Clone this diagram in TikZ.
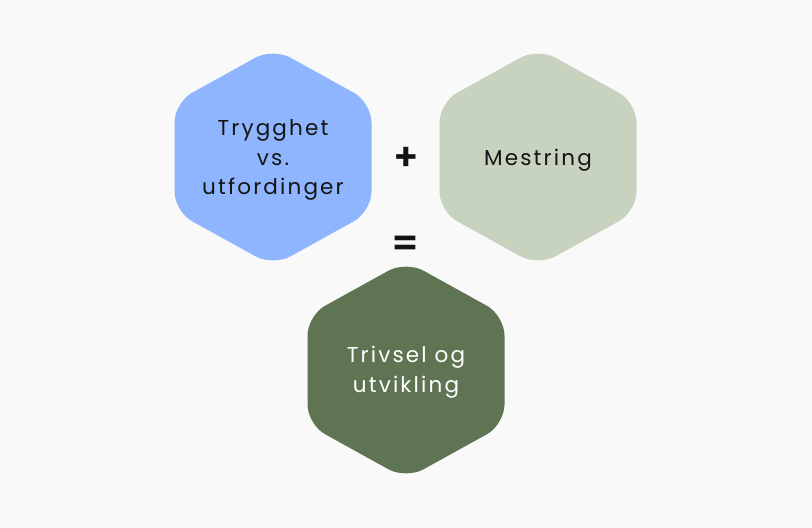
\documentclass[tikz,border=0pt]{standalone}
\usepackage{fontspec}
\setmainfont{Poppins}[LetterSpace=10]
\newfontfamily\signfont{Poppins SemiBold}
\definecolor{bgpaper}{RGB}{249,249,249}
\definecolor{hexblue}{RGB}{143,181,255}
\definecolor{hexsage}{RGB}{199,211,191}
\definecolor{hexmoss}{RGB}{94,116,82}
\definecolor{inkdark}{RGB}{20,20,20}

\begin{document}
\begin{tikzpicture}[x=0.025cm,y=-0.025cm,
  hexlabel/.style={align=center,font=\fontsize{15.3}{21}\selectfont},
  signlabel/.style={font=\signfont\fontsize{27}{27}\selectfont,text=inkdark},
  pics/hexcell/.style={code={
    \fill[#1,rounded corners=0.5cm]
      (-98.5,0) -- (-98.5,-54.5) -- (0,-109) -- (98.5,-54.5)
      -- (98.5,54.5) -- (0,109) -- (-98.5,54.5) -- cycle;
  }}]
  \fill[bgpaper] (0,0) rectangle (812,528);
  \useasboundingbox (0,0) rectangle (812,528);
  % three cells
  \pic at (273,157) {hexcell=hexblue};
  \pic at (538,157) {hexcell=hexsage};
  \pic at (406,370) {hexcell=hexmoss};
  \node[hexlabel,text=inkdark] (trygghet) at (273,160) {Trygghet\\vs.\\utfordinger};
  \node[hexlabel,text=inkdark] (mestring) at (538,160) {Mestring};
  \node[hexlabel,text=white] (trivsel) at (406,372) {Trivsel og\\utvikling};
  % operators
  \node[signlabel] (plus) at (406,159) {+};
  \node[signlabel] (equals) at (406,246) {=};
\end{tikzpicture}
\end{document}
